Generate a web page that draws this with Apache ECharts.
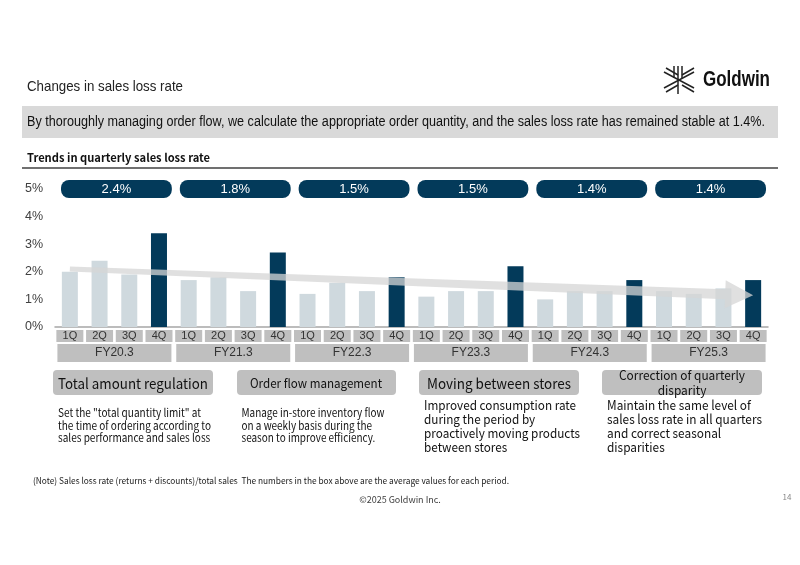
<!DOCTYPE html>
<html>
<head>
<meta charset="utf-8">
<script src="https://cdn.jsdelivr.net/npm/echarts@6/dist/echarts.min.js"></script>
<style>
  html, body { margin: 0; padding: 0; background: #fff; }
  #main { width: 800px; height: 565px; }
</style>
</head>
<body>
<div id="main"></div>
<script>
// 数据
var fiscalYears = ['FY20.3', 'FY21.3', 'FY22.3', 'FY23.3', 'FY24.3', 'FY25.3'];
var quarters = ['1Q', '2Q', '3Q', '4Q'];
var lossRate = [
  2.0, 2.4, 1.9, 3.4,
  1.7, 1.8, 1.3, 2.7,
  1.2, 1.6, 1.3, 1.8,
  1.1, 1.3, 1.3, 2.2,
  1.0, 1.3, 1.3, 1.7,
  1.3, 1.2, 1.4, 1.7
];
var avgRate = [2.4, 1.8, 1.5, 1.5, 1.4, 1.4];
var yMin = 0, yMax = 5, yStep = 1;
// trend arrow: [start index, start value, tip index, tip value]
var trend = [0, 2.1, 23, 1.15];

var DARK = '#033a5a';
var LIGHT = '#cfd9de';
var BOX = '#bfbfbf';
var TXT = '"Noto Sans CJK JP"';
var SANS = '"Liberation Sans"';

// 季度类目
var quarterCats = [];
for (var i = 0; i < fiscalYears.length; i++) {
  for (var j = 0; j < quarters.length; j++) {
    quarterCats.push(fiscalYears[i] + ' ' + quarters[j]);
  }
}

// 文字宽度压缩（参考图字体较窄）
var mctx = document.createElement('canvas').getContext('2d');
function fit(line, font, w) {
  mctx.font = font;
  return w / mctx.measureText(line).width;
}
function txt(text, x, y, font, refLine, w, extra) {
  var el = {
    type: 'text', x: x, y: y,
    scaleX: fit(refLine, font, w),
    style: { text: text, font: font, fill: '#111', verticalAlign: 'middle' }
  };
  if (extra) {
    for (var k in extra) el.style[k] = extra[k];
  }
  return el;
}

var myChart = echarts.init(document.getElementById('main'));

var banner = 'By thoroughly managing order flow, we calculate the appropriate order quantity, and the sales loss rate has remained stable at 1.4%.';
var note = '(Note) Sales loss rate (returns + discounts)/total sales  The numbers in the box above are the average values for each period.';

var option = {
  backgroundColor: '#fff',
  animation: false,
  grid: { left: 55, right: 32, top: 189, bottom: 238 },
  xAxis: [
    {
      type: 'category',
      data: quarterCats,
      axisLine: { lineStyle: { color: '#a6a6a6', width: 1.5 } },
      axisTick: { show: false },
      axisLabel: {
        interval: 0,
        margin: 3,
        formatter: function (v) { return v.split(' ')[1]; },
        color: '#333',
        fontFamily: 'Liberation Sans',
        fontSize: 11,
        backgroundColor: BOX,
        width: 27,
        height: 12,
        lineHeight: 12,
        align: 'center',
        verticalAlign: 'top'
      }
    },
    {
      type: 'category',
      data: fiscalYears,
      position: 'bottom',
      offset: 14,
      axisLine: { show: false },
      axisTick: { show: false },
      axisLabel: {
        interval: 0,
        margin: 3,
        color: '#333',
        fontFamily: 'Liberation Sans',
        fontSize: 12,
        backgroundColor: BOX,
        width: 114,
        height: 18,
        lineHeight: 18,
        align: 'center',
        verticalAlign: 'top'
      }
    }
  ],
  yAxis: {
    type: 'value',
    min: yMin,
    max: yMax,
    interval: yStep,
    axisLine: { show: false },
    axisTick: { show: false },
    splitLine: { show: false },
    axisLabel: {
      formatter: '{value}%',
      margin: 12,
      color: '#404040',
      fontFamily: 'Liberation Sans',
      fontSize: 12.5
    }
  },
  series: [
    {
      name: 'loss rate',
      type: 'bar',
      data: lossRate,
      barWidth: 16,
      itemStyle: {
        color: function (p) {
          return quarterCats[p.dataIndex].indexOf('4Q') > -1 ? DARK : LIGHT;
        }
      },
      z: 2
    },
    {
      // 趋势箭头
      name: 'trend',
      type: 'custom',
      xAxisIndex: 0,
      data: [trend],
      z: 5,
      silent: true,
      renderItem: function (params, api) {
        var p0 = api.coord([api.value(0), api.value(1)]);
        var p1 = api.coord([api.value(2), api.value(3)]);
        var dx = p1[0] - p0[0], dy = p1[1] - p0[1];
        var len = Math.sqrt(dx * dx + dy * dy);
        var ux = dx / len, uy = dy / len;
        var nx = -uy, ny = ux;
        var headLen = 28, headW = 14, w0 = 2.5, w1 = 5;
        var bx = p1[0] - ux * headLen, by = p1[1] - uy * headLen;
        var pts = [
          [p0[0] + nx * w0, p0[1] + ny * w0],
          [bx + nx * w1, by + ny * w1],
          [bx + nx * headW, by + ny * headW],
          p1,
          [bx - nx * headW, by - ny * headW],
          [bx - nx * w1, by - ny * w1],
          [p0[0] - nx * w0, p0[1] - ny * w0]
        ];
        return {
          type: 'polygon',
          shape: { points: pts },
          style: { fill: '#d6d6d6', opacity: 0.75 }
        };
      }
    },
    {
      // 平均值
      name: 'average',
      type: 'custom',
      xAxisIndex: 1,
      data: avgRate.map(function (v, i) { return [i, v]; }),
      z: 6,
      renderItem: function (params, api) {
        var c = api.coord([api.value(0), yMax]);
        var w = api.size([1, 0])[0] - 8;
        return {
          type: 'group',
          children: [
            {
              type: 'rect',
              shape: { x: c[0] - w / 2 + 2, y: c[1] - 9, width: w, height: 18, r: 8 },
              style: { fill: DARK }
            },
            {
              type: 'text',
              style: {
                text: api.value(1).toFixed(1) + '%',
                x: c[0] + 2,
                y: c[1] + 0.5,
                align: 'center',
                verticalAlign: 'middle',
                fill: '#fff',
                font: '13px "Liberation Sans"'
              }
            }
          ]
        };
      }
    }
  ],
  graphic: [
    txt('Changes in sales loss rate', 27, 87, '15px ' + SANS, 'Changes in sales loss rate', 156, { fill: '#222' }),
    // logo
    {
      type: 'group', x: 664, y: 66,
      children: [
        { type: 'line', shape: { x1: 14, y1: 0, x2: 14, y2: 28 }, style: { stroke: '#222', lineWidth: 1.5 } },
        { type: 'line', shape: { x1: 18, y1: 0, x2: 18, y2: 12 }, style: { stroke: '#222', lineWidth: 1.5 } },
        { type: 'line', shape: { x1: 10, y1: 0, x2: 10, y2: 12 }, style: { stroke: '#222', lineWidth: 1.5 } },
        { type: 'line', shape: { x1: 0, y1: 6, x2: 30, y2: 22 }, style: { stroke: '#222', lineWidth: 1.5 } },
        { type: 'line', shape: { x1: 2, y1: 2, x2: 14, y2: 9 }, style: { stroke: '#222', lineWidth: 1.5 } },
        { type: 'line', shape: { x1: 18, y1: 19, x2: 30, y2: 26 }, style: { stroke: '#222', lineWidth: 1.5 } },
        { type: 'line', shape: { x1: 0, y1: 22, x2: 30, y2: 6 }, style: { stroke: '#222', lineWidth: 1.5 } },
        { type: 'line', shape: { x1: 2, y1: 26, x2: 14, y2: 19 }, style: { stroke: '#222', lineWidth: 1.5 } },
        { type: 'line', shape: { x1: 18, y1: 9, x2: 30, y2: 2 }, style: { stroke: '#222', lineWidth: 1.5 } }
      ]
    },
    txt('Goldwin', 703, 80, 'bold 22px ' + SANS, 'Goldwin', 67),
    // banner
    { type: 'rect', shape: { x: 22, y: 106, width: 756, height: 32 }, style: { fill: '#d9d9d9' } },
    txt(banner, 27, 122, '14px ' + SANS, banner, 738),
    txt('Trends in quarterly sales loss rate', 27, 158, 'bold 11.5px ' + TXT, 'Trends in quarterly sales loss rate', 183),
    { type: 'line', shape: { x1: 22, y1: 168, x2: 778, y2: 168 }, style: { stroke: '#404040', lineWidth: 1.5 } },
    // boxes
    { type: 'rect', shape: { x: 53, y: 370, width: 160, height: 25, r: 4 }, style: { fill: BOX } },
    txt('Total amount regulation', 133, 383, '14.5px ' + TXT, 'Total amount regulation', 150, { align: 'center' }),
    { type: 'rect', shape: { x: 237, y: 370, width: 159, height: 25, r: 4 }, style: { fill: BOX } },
    txt('Order flow management', 316, 383, '12.5px ' + TXT, 'Order flow management', 132, { align: 'center' }),
    { type: 'rect', shape: { x: 419, y: 370, width: 160, height: 25, r: 4 }, style: { fill: BOX } },
    txt('Moving between stores', 499, 383, '14.5px ' + TXT, 'Moving between stores', 144, { align: 'center' }),
    { type: 'rect', shape: { x: 602, y: 370, width: 160, height: 25, r: 4 }, style: { fill: BOX } },
    txt('Correction of quarterly\ndisparity', 682, 383, '12.5px ' + TXT, 'Correction of quarterly', 126, { align: 'center', lineHeight: 15 }),
    // descriptions
    txt('Set the "total quantity limit" at\nthe time of ordering according to\nsales performance and sales loss', 58, 425.5,
        '11.5px ' + TXT, 'the time of ordering according to', 153, { lineHeight: 12.4 }),
    txt('Manage in-store inventory flow\non a weekly basis during the\nseason to improve efficiency.', 241.5, 425.5,
        '11.5px ' + TXT, 'Manage in-store inventory flow', 143, { lineHeight: 12.4 }),
    txt('Improved consumption rate\nduring the period by\nproactively moving products\nbetween stores', 424, 426,
        '13px ' + TXT, 'proactively moving products', 156, { lineHeight: 14 }),
    txt('Maintain the same level of\nsales loss rate in all quarters\nand correct seasonal\ndisparities', 607, 426,
        '13px ' + TXT, 'sales loss rate in all quarters', 155, { lineHeight: 14 }),
    // notes
    txt(note, 33, 481, '9px ' + TXT, note, 476, { fill: '#222' }),
    { type: 'text', x: 400, y: 500, style: { text: '©2025 Goldwin Inc.', align: 'center', verticalAlign: 'middle', fill: '#404040', font: '9px ' + TXT } },
    { type: 'text', x: 787, y: 497, style: { text: '14', align: 'center', verticalAlign: 'middle', fill: '#888', font: '8px ' + TXT } }
  ]
};

myChart.setOption(option);
</script>
</body>
</html>
